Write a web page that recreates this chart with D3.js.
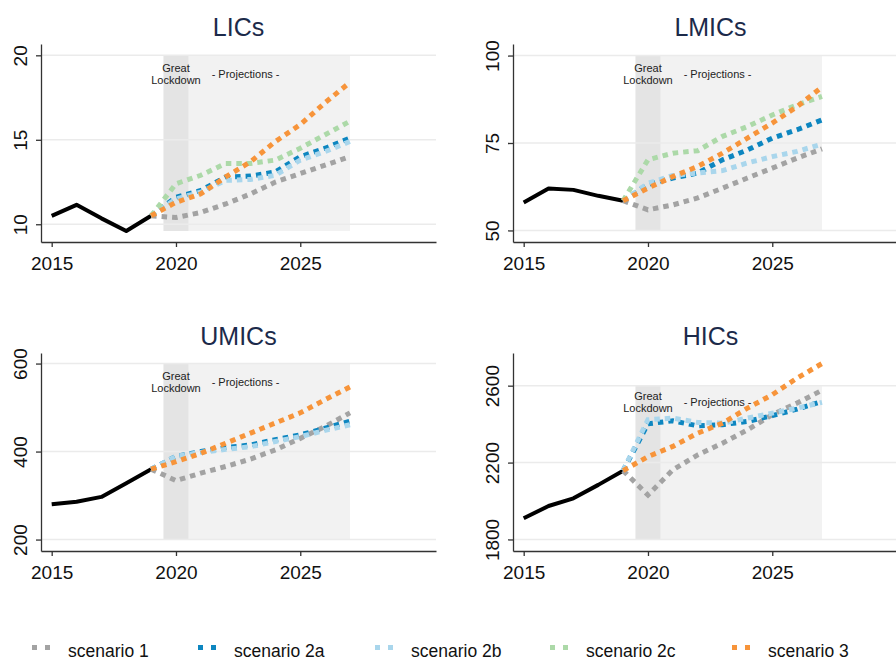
<!DOCTYPE html>
<html>
<head>
<meta charset="utf-8">
<script src="https://cdn.jsdelivr.net/npm/d3@7"></script>
<style>
  body { margin: 0; background: #fff; }
  svg { display: block; font-family: 'Liberation Sans', Arial, Helvetica, sans-serif; }
</style>
</head>
<body>
<svg width="896" height="660"></svg>
<script>
// years
const histYears = [2015, 2016, 2017, 2018, 2019];
const projYears = [2019, 2020, 2021, 2022, 2023, 2024, 2025, 2026, 2027];

const panelNames = ['LICs', 'LMICs', 'UMICs', 'HICs'];
const scenarioNames = ['scenario 1', 'scenario 2a', 'scenario 2b', 'scenario 2c', 'scenario 3'];
const scenarioColors = ['#a3a3a3', '#0d86c0', '#a9d6ec', '#acd9a8', '#f7943a'];

// y ticks and shaded band per panel
const yTicks = [[10, 15, 20], [50, 75, 100], [200, 400, 600], [1800, 2200, 2600]];
const yDomains = [[8.95, 20.67], [46.7, 103.3], [174, 624], [1740, 2770]];
const shadeRanges = [[9.6, 20], [50, 100], [200, 600], [1800, 2600]];

// historical
const histLICs = [10.5, 11.15, 10.35, 9.6, 10.5];
const histLMICs = [58.0, 62.0, 61.6, 59.9, 58.5];
const histUMICs = [280, 286, 297, 328, 360];
const histHICs = [1910, 1974, 2014, 2084, 2158];

// projections: scenario 1, 2a, 2b, 2c, 3 (null = not shown)
const projLICs = [
  [10.5, 10.4, 10.7, 11.2, 11.8, 12.5, 13.0, 13.5, 14.0],
  [10.5, 11.6, 12.0, 12.8, 12.85, 13.1, 14.0, 14.5, 15.1],
  [10.5, 11.5, 11.9, 12.6, 12.65, 12.9, 13.8, 14.3, 14.9],
  [10.5, 12.4, 12.9, 13.6, 13.6, 13.8, 14.5, 15.3, 16.1],
  [10.5, 11.3, 11.8, 12.8, 13.7, 14.9, 15.9, 17.2, 18.4]
];
const projLMICs = [
  [58.5, 55.9, 57.3, 59.3, 62.1, 65.0, 67.8, 70.7, 73.3],
  [58.5, 63.1, 65.0, 66.4, 70.2, 73.0, 76.4, 78.8, 81.6],
  [58.5, 63.5, 65.7, 66.4, 67.1, 69.3, 71.1, 72.6, 74.7],
  [58.5, 70.2, 72.1, 72.8, 76.9, 79.7, 83.0, 85.9, 88.3],
  [58.5, 62.1, 65.4, 68.3, 72.1, 76.4, 80.7, 85.4, 91.0]
];
const projUMICs = [
  [360, 334, 351, 366, 383, 404, 430, 457, 488],
  [360, 389, 400, 409, 415, 427, 438, 453, 469],
  [360, 389, 398, 405, 411, 423, 434, 448, 461],
  null,
  [360, 377, 396, 419, 442, 465, 488, 518, 547]
];
const projHICs = [
  [2158, 2031, 2162, 2240, 2301, 2370, 2449, 2510, 2576],
  [2158, 2402, 2417, 2391, 2397, 2414, 2444, 2478, 2518],
  [2158, 2423, 2431, 2409, 2405, 2431, 2457, 2483, 2513],
  null,
  [2158, 2231, 2284, 2353, 2405, 2483, 2553, 2640, 2715]
];

const histAll = [histLICs, histLMICs, histUMICs, histHICs];
const projAll = [projLICs, projLMICs, projUMICs, projHICs];

const svg = d3.select('svg');
const plotW = 395;
const plotTop = 44;
const plotBottom = 242;
const panelPos = [[41, 0], [513, 0], [41, 309], [513, 309]];

const x = d3.scaleLinear().domain([2014.57, 2030.46]).range([0, plotW]);

panelNames.forEach((name, p) => {
  const g = svg.append('g').attr('transform', `translate(${panelPos[p][0]},${panelPos[p][1]})`);
  const y = d3.scaleLinear().domain(yDomains[p]).range([plotBottom, plotTop]);
  const sh = shadeRanges[p];

  // shaded projection area
  g.append('rect')
      .attr('x', x(2019.5)).attr('width', x(2027) - x(2019.5))
      .attr('y', y(sh[1])).attr('height', y(sh[0]) - y(sh[1]))
      .attr('fill', '#f2f2f2');
  g.append('rect')
      .attr('x', x(2019.5)).attr('width', x(2020.5) - x(2019.5))
      .attr('y', y(sh[1])).attr('height', y(sh[0]) - y(sh[1]))
      .attr('fill', '#e4e4e4');

  // grid
  g.append('g').selectAll('line')
    .data(yTicks[p])
    .enter().append('line')
      .attr('x1', 0).attr('x2', plotW)
      .attr('y1', d => y(d)).attr('y2', d => y(d))
      .attr('stroke', '#ebebeb').attr('stroke-width', 1.5);

  // band labels
  const ty = y(sh[1]) + 0.11 * (y(sh[0]) - y(sh[1]));
  const lab = g.append('g').attr('font-size', 11).attr('fill', '#222').attr('text-anchor', 'middle');
  lab.append('text').attr('x', x(2020)).attr('y', ty - 2.5).text('Great');
  lab.append('text').attr('x', x(2020)).attr('y', ty + 9).text('Lockdown');
  lab.append('text').attr('x', x(2022.8)).attr('y', ty + 3.5).text('- Projections -');

  // axes
  const yAxis = g.append('g')
      .call(d3.axisLeft(y).tickValues(yTicks[p]).tickFormat(d3.format('d')).tickSize(5).tickSizeOuter(0));
  yAxis.selectAll('text')
      .attr('x', 0).attr('dy', null)
      .attr('transform', 'translate(-21,0) rotate(-90)')
      .attr('text-anchor', 'middle')
      .attr('dominant-baseline', 'central');
  const xAxis = g.append('g')
      .attr('transform', `translate(0,${plotBottom})`)
      .call(d3.axisBottom(x).tickValues([2015, 2020, 2025]).tickFormat(d3.format('d')).tickSize(5).tickSizeOuter(0));
  xAxis.selectAll('text').attr('y', 15);
  [yAxis, xAxis].forEach(a => {
    a.attr('font-size', 19).attr('font-family', null);
    a.selectAll('path, line').attr('stroke', '#333').attr('stroke-width', 1.3);
    a.selectAll('text').attr('fill', '#111');
  });

  // lines
  const line = d3.line().x(d => x(d[0])).y(d => y(d[1]));
  g.append('path')
      .datum(d3.zip(histYears, histAll[p]))
      .attr('d', line)
      .attr('fill', 'none').attr('stroke', '#000')
      .attr('stroke-width', 4).attr('stroke-linejoin', 'round');

  projAll[p].forEach((vals, s) => {
    if (!vals) return;
    g.append('path')
        .datum(d3.zip(projYears, vals))
        .attr('d', line)
        .attr('fill', 'none').attr('stroke', scenarioColors[s])
        .attr('stroke-width', 5).attr('stroke-dasharray', '5.5,5');
  });

  // title
  g.append('text')
      .attr('x', plotW / 2).attr('y', 36)
      .attr('text-anchor', 'middle')
      .attr('font-size', 25).attr('fill', '#1c2a4a')
      .text(name);
});

// legend
const legendX = [32, 198, 375, 550, 732];
const legend = svg.append('g').selectAll('g')
  .data(scenarioNames)
  .enter().append('g')
    .attr('transform', (d, i) => `translate(${legendX[i]},0)`);
legend.append('line')
    .attr('x1', 0).attr('x2', 18)
    .attr('y1', 647.5).attr('y2', 647.5)
    .attr('stroke', (d, i) => scenarioColors[i])
    .attr('stroke-width', 5).attr('stroke-dasharray', '5,8');
legend.append('text')
    .attr('x', 36).attr('y', 657)
    .attr('font-size', 17.5).attr('fill', '#111')
    .text(d => d);
</script>
</body>
</html>
